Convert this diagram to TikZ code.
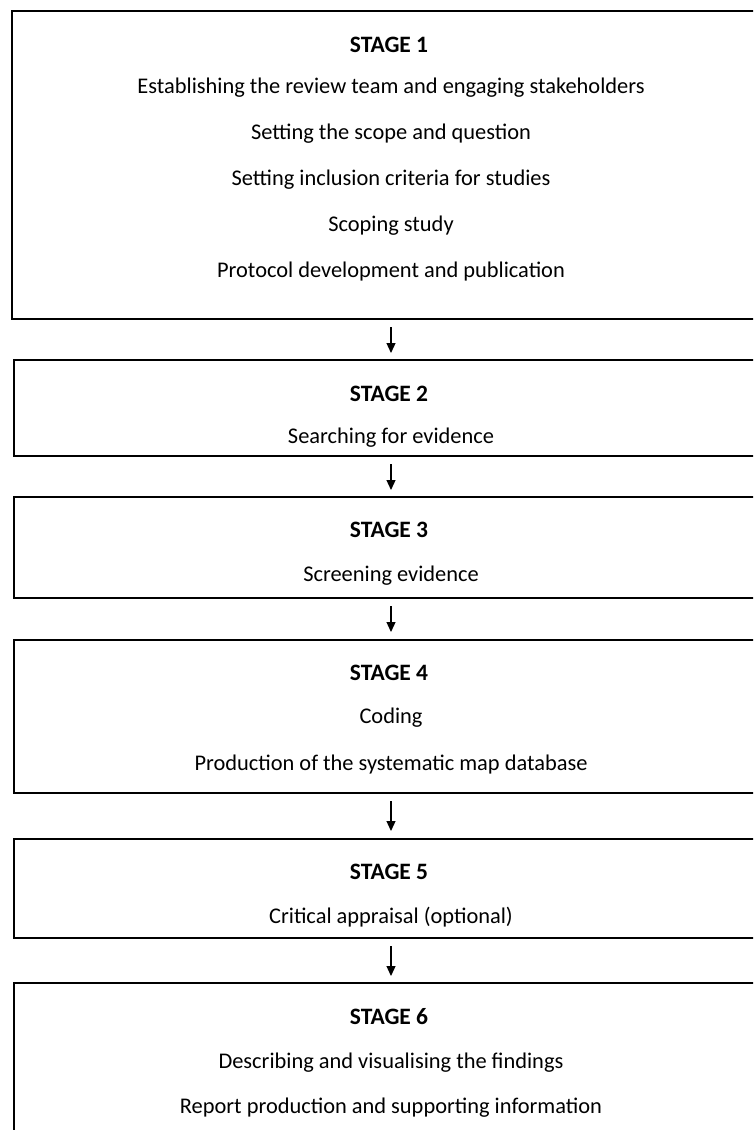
\documentclass[tikz,border=0pt]{standalone}
\usepackage{fontspec}
\setmainfont{Carlito}
\usetikzlibrary{arrows.meta}
\begin{document}
\begin{tikzpicture}[x=1pt,y=-1pt,
  box/.style={draw=black,line width=2pt},
  txt/.style={font=\fontsize{22.4}{25}\selectfont,inner sep=0pt,anchor=center},
  ttl/.style={font=\fontsize{23.5}{26}\selectfont\bfseries,inner sep=0pt,anchor=center},
  arr/.style={draw=black,line width=1.2pt,-{Triangle[length=10pt,width=9pt]}}]
\useasboundingbox (0,0) rectangle (753,1130);
\clip (0,0) rectangle (753,1130);
% boxes
\draw[box] (770,11) -- (12,11) -- (12,319) -- (770,319);
\draw[box] (770,360) -- (14,360) -- (14,456) -- (770,456);
\draw[box] (770,497) -- (14,497) -- (14,598) -- (770,598);
\draw[box] (770,640) -- (14,640) -- (14,793) -- (770,793);
\draw[box] (770,839) -- (14,839) -- (14,938) -- (770,938);
\draw[box] (770,983) -- (14,983) -- (14,1140);
% arrow ends
\coordinate (b1) at (391,327); \coordinate (t2) at (391,353);
\coordinate (b2) at (391,464); \coordinate (t3) at (391,490);
\coordinate (b3) at (391,606); \coordinate (t4) at (391,632);
\coordinate (b4) at (391,801); \coordinate (t5) at (391,831);
\coordinate (b5) at (391,946); \coordinate (t6) at (391,976);
\draw[arr] (b1) -- (t2);
\draw[arr] (b2) -- (t3);
\draw[arr] (b3) -- (t4);
\draw[arr] (b4) -- (t5);
\draw[arr] (b5) -- (t6);
% texts
\node[ttl] (s1) at (389,45) {STAGE 1};
\node[txt] (s1a) at (391,88) {Establishing the review team and engaging stakeholders};
\node[txt] (s1b) at (391,134) {Setting the scope and question};
\node[txt] (s1c) at (391,180) {Setting inclusion criteria for studies};
\node[txt] (s1d) at (391,226) {Scoping study};
\node[txt] (s1e) at (391,272) {Protocol development and publication};
\node[ttl] (s2) at (389,394) {STAGE 2};
\node[txt] (s2a) at (391,438) {Searching for evidence};
\node[ttl] (s3) at (389,530) {STAGE 3};
\node[txt] (s3a) at (391,576) {Screening evidence};
\node[ttl] (s4) at (389,673) {STAGE 4};
\node[txt] (s4a) at (391,718) {Coding};
\node[txt] (s4b) at (391,765) {Production of the systematic map database};
\node[ttl] (s5) at (389,872) {STAGE 5};
\node[txt] (s5a) at (391,917) {Critical appraisal (optional)};
\node[ttl] (s6) at (389,1017) {STAGE 6};
\node[txt] (s6a) at (391,1063) {Describing and visualising the findings};
\node[txt] (s6b) at (391,1108) {Report production and supporting information};
\end{tikzpicture}
\end{document}
